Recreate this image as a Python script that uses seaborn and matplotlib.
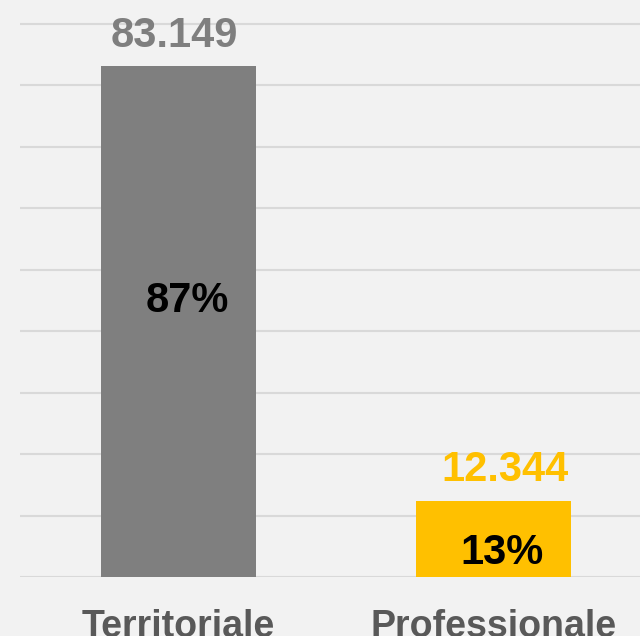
import pandas as pd
import seaborn as sns
import matplotlib.pyplot as plt

categories = ["Territoriale", "Professionale"]
values = [83149, 12344]
value_labels = ["83.149", "12.344"]
pct_labels = ["87%", "13%"]
colors = ["#7F7F7F", "#FFC000"]

df = pd.DataFrame({"categoria": categories, "valore": values})

sns.set_style("white")
plt.rcParams["font.family"] = ["Liberation Sans", "DejaVu Sans"]

fig = plt.figure(figsize=(6.4, 6.36), dpi=100, facecolor="#F2F2F2")
ax = fig.add_axes([20 / 640, 59 / 636, 620 / 640, 577 / 636])
ax.set_facecolor("#F2F2F2")

sns.barplot(
    x="categoria",
    y="valore",
    hue="categoria",
    data=df,
    palette=colors,
    width=0.49,
    saturation=1,
    linewidth=0,
    legend=False,
    ax=ax
)

ax.set_xlim(-0.503, 1.465)
ax.set_ylim(0, 93880)
ax.set_yticks(range(0, 90001, 10000))
ax.yaxis.grid(True, color="#D9D9D9", linewidth=1.5)
ax.set_axisbelow(True)
ax.tick_params(axis="y", left=False, labelleft=False)
ax.tick_params(axis="x", length=0, pad=23, labelsize=27, labelcolor="#595959")
for lbl in ax.get_xticklabels():
    lbl.set_fontweight("bold")
ax.set_xlabel("")
ax.set_ylabel("")
for s in ax.spines.values():
    s.set_visible(False)

# etichette valori sopra le barre
val_pos = [(-0.014, 88000), (1.036, 17400)]
for (x, y), txt, c in zip(val_pos, value_labels, colors):
    ax.text(x, y, txt, ha="center", va="center", fontsize=30,
            fontweight="bold", color=c)

# percentuali dentro le barre
pct_pos = [(0.028, 44900), (1.028, 3900)]
for (x, y), txt in zip(pct_pos, pct_labels):
    ax.text(x, y, txt, ha="center", va="center", fontsize=30,
            fontweight="bold", color="black")

fig.savefig("out.png", dpi=100, facecolor=fig.get_facecolor())
